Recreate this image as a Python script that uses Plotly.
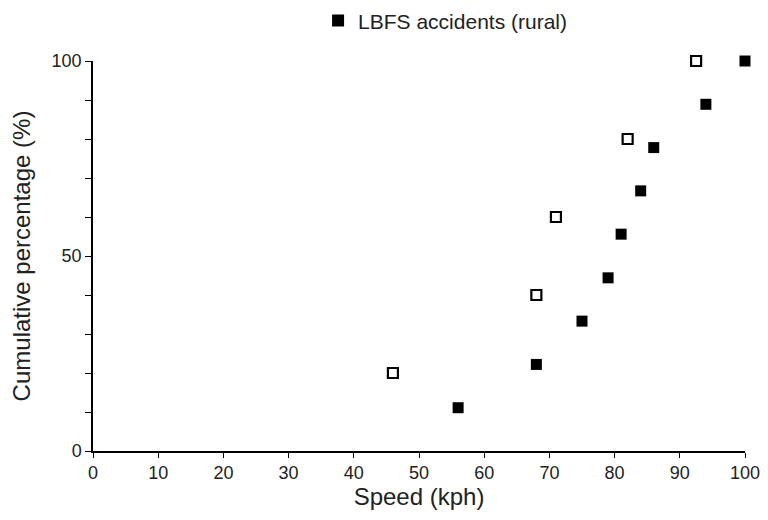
import plotly.graph_objects as go

# Filled squares: LBFS accidents (rural)
rural_speed = [56, 68, 75, 79, 81, 84, 86, 94, 100]
rural_cum = [11.1, 22.2, 33.3, 44.4, 55.6, 66.7, 77.8, 88.9, 100]

# Open squares: second series (not in legend)
other_speed = [46, 68, 71, 82, 92.5]
other_cum = [20, 40, 60, 80, 100]

x_ticks = [0, 10, 20, 30, 40, 50, 60, 70, 80, 90, 100]
y_ticks = [0, 50, 100]

font_family = "Liberation Sans, Arial, sans-serif"
text_color = "#222222"

fig = go.Figure()
fig.add_trace(go.Scatter(
    x=other_speed, y=other_cum, mode="markers", showlegend=False,
    marker=dict(symbol="square-open", size=10, color="black", line=dict(width=2.2, color="black")),
    cliponaxis=False,
))
fig.add_trace(go.Scatter(
    x=rural_speed, y=rural_cum, mode="markers", name="LBFS accidents (rural)",
    marker=dict(symbol="square", size=11, color="black"),
    cliponaxis=False,
))

fig.update_layout(
    width=760, height=512,
    margin=dict(l=85, r=23, t=53, b=69, autoexpand=False),
    paper_bgcolor="white", plot_bgcolor="white",
    font=dict(family=font_family, color=text_color, size=18),
    legend=dict(orientation="h", xref="container", yref="container",
                x=0.408, y=0.975, xanchor="left", yanchor="middle",
                font=dict(size=21, color=text_color), itemsizing="constant",
                bgcolor="rgba(0,0,0,0)"),
    xaxis=dict(
        range=[0, 100], tickmode="array", tickvals=x_ticks, ticktext=[str(v) for v in x_ticks],
        showgrid=False, zeroline=False, showline=True, linecolor="black", linewidth=1.5,
        ticks="outside", ticklen=5, tickcolor="black", tickwidth=1.2,
        tickfont=dict(size=18, color=text_color), automargin=False,
        title=dict(text="Speed (kph)", font=dict(size=24, color=text_color), standoff=4),
    ),
    yaxis=dict(
        range=[0, 100], tickmode="array", tickvals=y_ticks, ticktext=[str(v) for v in y_ticks],
        showgrid=False, zeroline=False, showline=True, linecolor="black", linewidth=1.5,
        ticks="outside", ticklen=6, tickcolor="black", tickwidth=1.2,
        minor=dict(dtick=10, tick0=0, ticks="outside", ticklen=6, tickcolor="black", tickwidth=1, showgrid=False),
        tickfont=dict(size=18, color=text_color), automargin=False,
        title=dict(text="Cumulative percentage (%)", font=dict(size=24, color=text_color), standoff=14),
    ),
)

fig.write_html("out.html")
